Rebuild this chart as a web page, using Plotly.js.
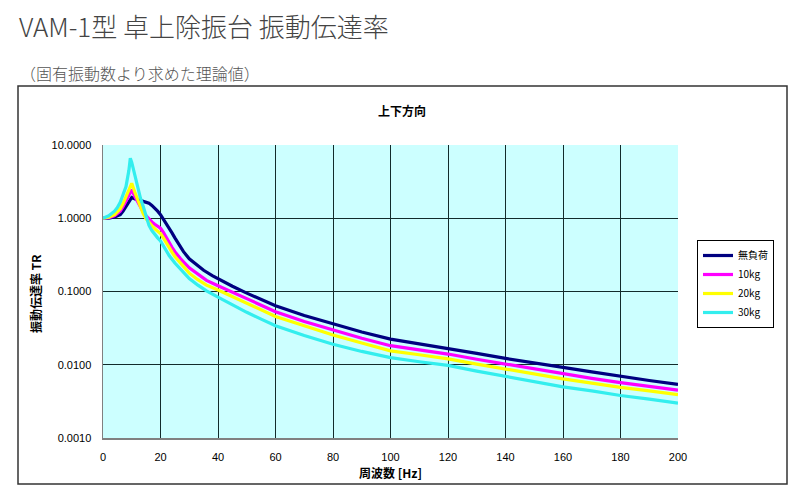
<!DOCTYPE html>
<html>
<head>
<meta charset="utf-8">
<script src="https://cdn.plot.ly/plotly-3.0.1.min.js"></script>
<style>
html,body{margin:0;padding:0;background:#fff;}
#chart{width:800px;height:500px;}
</style>
</head>
<body>
<div id="chart"></div>
<script>
// ---- data ----
const seriesNames = ["無負荷", "10kg", "20kg", "30kg"];

const freqNoLoad = [0, 2, 4, 6, 7, 8, 9, 10, 11, 12, 14, 16, 17, 18, 19, 20, 21, 22, 23, 24, 25, 26, 27, 28, 30, 32, 35, 38, 40, 45, 50, 55, 60, 70, 80, 90, 100, 110, 120, 130, 140, 150, 160, 170, 180, 190, 200];
const trNoLoad   = [1.0, 1.0, 1.04, 1.12, 1.25, 1.45, 1.7, 1.92, 1.85, 1.78, 1.7, 1.6, 1.5, 1.38, 1.25, 1.12, 0.98, 0.86, 0.74, 0.63, 0.54, 0.46, 0.40, 0.35, 0.28, 0.24, 0.195, 0.165, 0.149, 0.118, 0.095, 0.078, 0.064, 0.047, 0.036, 0.028, 0.0224, 0.0194, 0.0168, 0.0143, 0.0122, 0.0105, 0.0092, 0.0080, 0.0069, 0.0061, 0.0054];

const freq10 = [0, 2, 4, 6, 7, 8, 9, 10, 11, 12, 13, 14, 15, 16, 17, 18, 19, 20, 21, 22, 23, 24, 25, 26, 27, 30, 33, 36, 40, 45, 50, 55, 60, 70, 80, 90, 100, 110, 120, 130, 140, 150, 160, 170, 180, 190, 200];
const tr10   = [1.0, 1.02, 1.08, 1.25, 1.45, 1.75, 2.1, 2.45, 2.0, 1.68, 1.42, 1.22, 1.08, 0.97, 0.89, 0.83, 0.78, 0.73, 0.64, 0.54, 0.46, 0.40, 0.35, 0.31, 0.28, 0.21, 0.17, 0.142, 0.12, 0.099, 0.08, 0.065, 0.053, 0.039, 0.030, 0.023, 0.0182, 0.016, 0.014, 0.0119, 0.0102, 0.0087, 0.0075, 0.0065, 0.0057, 0.0051, 0.0045];

const freq20 = [0, 2, 4, 6, 7, 8, 9, 10, 11, 12, 13, 14, 15, 16, 17, 18, 19, 20, 21, 22, 23, 24, 25, 27, 30, 33, 36, 40, 45, 50, 55, 60, 70, 80, 90, 100, 110, 120, 130, 140, 150, 160, 170, 180, 190, 200];
const tr20   = [1.0, 1.03, 1.12, 1.35, 1.6, 2.0, 2.5, 3.0, 2.3, 1.8, 1.42, 1.15, 0.98, 0.87, 0.79, 0.72, 0.67, 0.62, 0.54, 0.46, 0.40, 0.345, 0.30, 0.24, 0.178, 0.145, 0.122, 0.105, 0.085, 0.069, 0.056, 0.0455, 0.034, 0.0255, 0.0198, 0.0155, 0.0137, 0.012, 0.0102, 0.0087, 0.0074, 0.0064, 0.0056, 0.0049, 0.0044, 0.0039];

const freq30 = [0, 2, 4, 5, 6, 7, 8, 9, 9.5, 10, 11, 12, 13, 14, 15, 16, 17, 18, 19, 20, 21, 22, 23, 25, 27, 30, 33, 36, 40, 45, 50, 55, 60, 70, 80, 90, 100, 110, 120, 130, 140, 150, 160, 170, 180, 190, 200];
const tr30   = [1.0, 1.08, 1.25, 1.4, 1.65, 2.05, 2.7, 4.5, 6.6, 5.8, 3.9, 2.6, 1.9, 1.45, 1.05, 0.8, 0.68, 0.6, 0.54, 0.49, 0.42, 0.36, 0.31, 0.245, 0.2, 0.15, 0.122, 0.102, 0.084, 0.066, 0.052, 0.042, 0.034, 0.025, 0.019, 0.0152, 0.0125, 0.011, 0.0098, 0.0082, 0.0069, 0.0058, 0.005, 0.0044, 0.0038, 0.0034, 0.003];

const yTickVals = [0.001, 0.01, 0.1, 1, 10];
const yTickText = ["0.0010", "0.0100", "0.1000", "1.0000", "10.0000"];
const xTickVals = [0, 20, 40, 60, 80, 100, 120, 140, 160, 180, 200];

const pageTitle = "VAM-1型 卓上除振台 振動伝達率";
const pageSubtitle = "（固有振動数より求めた理論値）";
const chartTitle = "上下方向";
const yTitle = "振動伝達率 TR";
const xTitle = "周波数 [Hz]";

// ---- chart ----
const colors = ["#000080", "#ff00ff", "#ffff00", "#33eeee"];
const xs = [freqNoLoad, freq10, freq20, freq30];
const ys = [trNoLoad, tr10, tr20, tr30];

const traces = seriesNames.map((n, i) => ({
  x: xs[i], y: ys[i], name: n, type: "scatter", mode: "lines",
  line: {color: colors[i], width: 3.2}
}));

const L = 103, R = 678, T = 145, B = 438;
const W = R - L, H = B - T;
const px = v => (v - L) / W;
const py = v => (B - v) / H;

const cjk = "Noto Sans CJK JP, sans-serif";
const latin = "Liberation Sans, Arial, sans-serif";

const layout = {
  width: 800, height: 500,
  margin: {l: L, r: 800 - R, t: T, b: 500 - B, pad: 0},
  paper_bgcolor: "#ffffff",
  plot_bgcolor: "#ccffff",
  showlegend: true,
  legend: {
    x: px(697), y: py(240), xanchor: "left", yanchor: "top",
    bgcolor: "#ffffff", bordercolor: "#000000", borderwidth: 1,
    font: {family: cjk, size: 10, color: "#000"},
    itemwidth: 30, tracegroupgap: 0
  },
  xaxis: {
    range: [0, 200], tickvals: xTickVals, ticks: "",
    showgrid: true, gridcolor: "#122b2b", gridwidth: 1,
    showline: true, linecolor: "#808080", linewidth: 1.5,
    zeroline: false, fixedrange: true,
    tickfont: {family: latin, size: 11, color: "#000"},
    ticklabelstandoff: 8
  },
  yaxis: {
    type: "log", range: [-3, 1], tickvals: yTickVals, ticktext: yTickText, ticks: "",
    showgrid: true, gridcolor: "#122b2b", gridwidth: 1,
    showline: true, linecolor: "#808080", linewidth: 1.5,
    zeroline: false, fixedrange: true,
    tickfont: {family: latin, size: 11, color: "#000"},
    ticklabelstandoff: 8
  },
  shapes: [{
    type: "rect", xref: "paper", yref: "paper",
    x0: px(18), x1: px(787), y0: py(484), y1: py(86),
    line: {color: "#333333", width: 1.5}, fillcolor: "rgba(0,0,0,0)", layer: "below"
  }],
  annotations: [
    {text: pageTitle, xref: "paper", yref: "paper", x: px(17), y: py(26),
     xanchor: "left", yanchor: "middle", showarrow: false,
     font: {family: cjk, size: 26, color: "#444444", weight: 300}},
    {text: pageSubtitle, xref: "paper", yref: "paper", x: px(18), y: py(73),
     xanchor: "left", yanchor: "middle", showarrow: false,
     font: {family: cjk, size: 16, color: "#555555", weight: 300}},
    {text: chartTitle, xref: "paper", yref: "paper", x: px(402), y: py(110),
     xanchor: "center", yanchor: "middle", showarrow: false,
     font: {family: cjk, size: 12, color: "#000", weight: 700}},
    {text: yTitle, xref: "paper", yref: "paper", x: px(35), y: py(294),
     xanchor: "center", yanchor: "middle", showarrow: false, textangle: -90,
     font: {family: cjk, size: 12, color: "#000", weight: 700}},
    {text: xTitle, xref: "paper", yref: "paper", x: px(390), y: py(472),
     xanchor: "center", yanchor: "middle", showarrow: false,
     font: {family: cjk, size: 12, color: "#000", weight: 700}}
  ]
};

Plotly.newPlot("chart", traces, layout, {displayModeBar: false, staticPlot: true});
</script>
</body>
</html>
